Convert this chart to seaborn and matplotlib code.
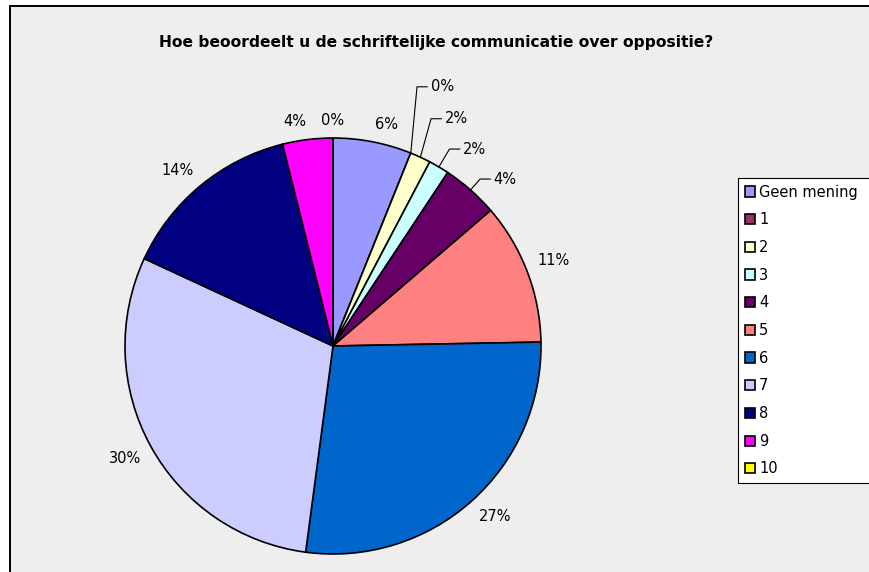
import numpy as np
import matplotlib
matplotlib.use("Agg")
import matplotlib.pyplot as plt
from matplotlib.patches import Rectangle
import seaborn as sns

# Survey answers, score categories
categories = ["Geen mening", "1", "2", "3", "4", "5", "6", "7", "8", "9", "10"]
percentages = [6.1, 0.0, 1.6, 1.6, 4.4, 11.0, 27.4, 29.8, 14.2, 3.9, 0.0]
colors = ["#9999FF", "#993366", "#FFFFCC", "#CCFFFF", "#660066", "#FF8080",
          "#0066CC", "#CCCCFF", "#000080", "#FF00FF", "#FFFF00"]
title = "Hoe beoordeelt u de schriftelijke communicatie over oppositie?"

# small slices near the top get labels with leader lines
leader_slices = {"1": (1.31, 4.0), "2": (1.19, 1.5), "3": (1.10, 0.0), "4": (1.07, 0.0)}

sns.set_style("white")
plt.rcParams["font.family"] = ["DejaVu Sans"]
plt.rcParams["text.color"] = "black"

W, H = 870, 572
fig = plt.figure(figsize=(W / 100, H / 100), dpi=100)
fig.patch.set_facecolor("white")

# grey chart area with black border (runs off right / bottom)
fig.patches.append(Rectangle((10 / W, -0.1), 1.2, (H - 6) / H + 0.1,
                             transform=fig.transFigure, facecolor="#EEEEEE",
                             edgecolor="black", linewidth=1.4, zorder=-5))

fig.text(436 / W, 1 - 43 / H, title, ha="center", va="center",
         fontsize=11.2, fontweight="bold")

# pie center ~ (333, 346) px, radius ~ 208 px
cx, cy, r = 333, 346, 208
ax = fig.add_axes([(cx - r) / W, (H - cy - r) / H, 2 * r / W, 2 * r / H])
ax.set_facecolor("none")
ax.set_zorder(2)
wedges, _ = ax.pie(percentages, colors=sns.color_palette(colors), startangle=90,
                   counterclock=False, radius=1.0,
                   wedgeprops=dict(edgecolor="black", linewidth=1.2))
ax.set_xlim(-1, 1)
ax.set_ylim(-1, 1)
ax.set_aspect("equal")
ax.axis("off")

fig.canvas.draw()
renderer = fig.canvas.get_renderer()

for w, cat, val in zip(wedges, categories, percentages):
    mid = np.deg2rad((w.theta1 + w.theta2) / 2)
    label = f"{val:.0f}%"
    if cat in leader_slices:
        dist, off = leader_slices[cat]
        ex, ey = np.cos(mid), np.sin(mid)
        a2 = mid + np.deg2rad(off)
        kx, ky = dist * np.cos(a2), dist * np.sin(a2)
        ax.plot([ex, kx, kx + 0.05], [ey, ky, ky], color="black", lw=0.8,
                clip_on=False)
        ax.text(kx + 0.065, ky, label, ha="left", va="center", fontsize=10.5)
    else:
        t = ax.text(0, 0, label, ha="center", va="center", fontsize=10.5)
        bb = t.get_window_extent(renderer)
        hw, hh = bb.width / 2 / r, bb.height / 2 / r
        c, s = np.cos(mid), np.sin(mid)
        # label box corner sits just outside the rim
        x = 1.05 * c + hw * np.sign(round(c, 6))
        y = 1.05 * s + hh * np.sign(round(s, 6))
        t.set_position((x, y))

leg = fig.legend(wedges, categories, loc="upper left",
                 bbox_to_anchor=(738 / W, 1 - 178 / H, 136 / W, 0),
                 mode="expand", borderaxespad=0,
                 fancybox=False, edgecolor="black", facecolor="white",
                 framealpha=1, fontsize=10.5, handlelength=0.7,
                 handleheight=0.7, handletextpad=0.3, labelspacing=0.87,
                 borderpad=0.45)
leg.get_frame().set_linewidth(0.8)

fig.savefig("out.png", dpi=100)
